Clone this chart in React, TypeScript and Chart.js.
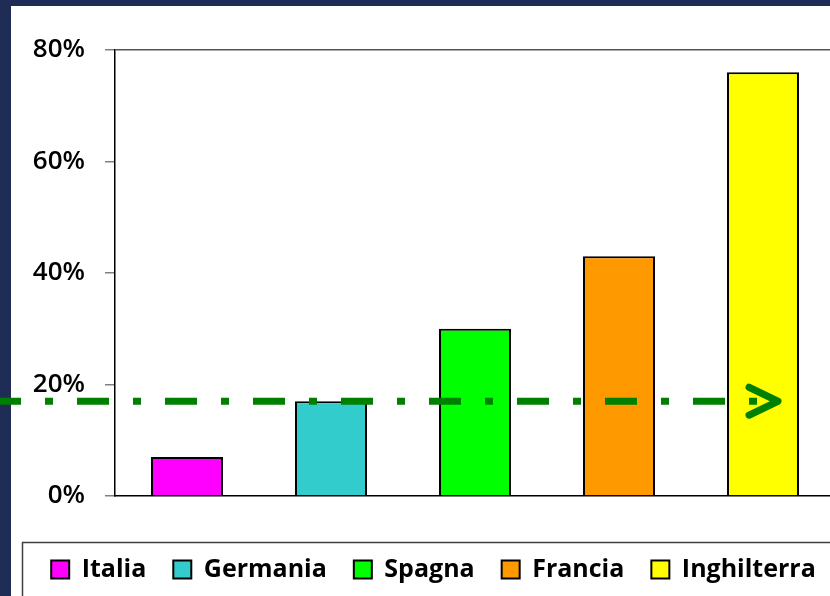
import React, { useEffect, useRef } from 'react';
import { Chart, registerables } from 'chart.js';

Chart.register(...registerables);

const countries = ['Italia', 'Germania', 'Spagna', 'Francia', 'Inghilterra'];
const shares = [7, 17, 30, 43, 76];
const barColors = ['#FF00FF', '#33CCCC', '#00FF00', '#FF9900', '#FFFF00'];
const yTickValues = [0, 20, 40, 60, 80];
const referenceLevel = 17;

export default function App() {
  const ref = useRef<HTMLCanvasElement>(null);

  useEffect(() => {
    if (!ref.current) return;

    const bgPlugin = {
      id: 'bgFrame',
      afterLayout(chart: any) {
        if (chart.legend) {
          chart.legend.left = 17;
          chart.legend.right = 850;
        }
      },
      beforeDraw(chart: any) {
        const { ctx, width, height } = chart;
        ctx.save();
        ctx.fillStyle = '#1f2c55';
        ctx.fillRect(0, 0, width, height);
        ctx.fillStyle = '#ffffff';
        ctx.fillRect(11, 6, width - 11, height - 6);
        ctx.restore();
      },
      afterDraw(chart: any) {
        const { ctx, width, height } = chart;
        ctx.save();
        ctx.strokeStyle = '#404040';
        ctx.lineWidth = 1.5;
        ctx.strokeRect(22.5, 542.5, width, height);
        ctx.restore();
      },
    };

    const refLinePlugin = {
      id: 'refLine',
      afterDatasetsDraw(chart: any) {
        const { ctx, scales } = chart;
        const y = scales.y.getPixelForValue(referenceLevel);
        const lastBar = chart.getDatasetMeta(countries.length - 1).data[0];
        const tipX = lastBar.x + 15;
        ctx.save();
        ctx.strokeStyle = '#008000';
        ctx.lineWidth = 7;
        ctx.lineCap = 'butt';
        ctx.setLineDash([32, 24, 8, 24]);
        ctx.lineDashOffset = 11;
        ctx.beginPath();
        ctx.moveTo(0, y);
        ctx.lineTo(tipX - 20, y);
        ctx.stroke();
        ctx.setLineDash([]);
        ctx.lineCap = 'round';
        ctx.lineJoin = 'round';
        ctx.beginPath();
        ctx.moveTo(tipX - 29, y - 14);
        ctx.lineTo(tipX, y);
        ctx.lineTo(tipX - 29, y + 14);
        ctx.stroke();
        ctx.restore();
      },
    };

    const chart = new Chart(ref.current, {
      type: 'bar',
      data: {
        labels: [''],
        datasets: countries.map((c, i) => ({
          label: c,
          data: [shares[i]],
          backgroundColor: barColors[i],
          borderColor: '#000000',
          borderWidth: 2,
          categoryPercentage: 1,
          barPercentage: 0.5,
        })),
      },
      options: {
        responsive: false,
        animation: false,
        devicePixelRatio: 1,
        layout: { padding: { left: 0, right: 0, top: 50, bottom: 4 } },
        plugins: {
          tooltip: { enabled: false },
          legend: {
            position: 'bottom',
            labels: {
              boxWidth: 18,
              boxHeight: 18,
              padding: 27,
              color: '#000000',
              font: { family: 'Open Sans', size: 25, weight: 'bold' },
            },
          },
        },
        scales: {
          x: {
            ticks: { display: false },
            grid: { display: false },
            border: { display: true, color: '#000000', width: 1.5 },
            afterFit(scale: any) {
              scale.height = 34;
            },
          },
          y: {
            min: 0,
            max: 80,
            afterBuildTicks(scale: any) {
              scale.ticks = yTickValues.map((v) => ({ value: v }));
            },
            ticks: {
              callback: (v: any) => v + '%',
              color: '#000000',
              padding: 20,
              font: { family: 'Open Sans', size: 26, weight: '600' },
            },
            grid: {
              drawOnChartArea: true,
              color: (c: any) => (c.tick && c.tick.value === 80 ? '#555555' : 'rgba(0,0,0,0)'),
              tickColor: '#808080',
              tickLength: 10,
              lineWidth: 1.5,
            },
            border: { display: true, color: '#000000', width: 1.5 },
            afterFit(scale: any) {
              scale.width = 115;
            },
          },
        },
      },
      plugins: [bgPlugin, refLinePlugin],
    });

    return () => chart.destroy();
  }, []);

  return (
    <div style={{ position: 'fixed', left: 0, top: 0, width: 830, height: 596, overflow: 'hidden' }}>
      <canvas ref={ref} width={835} height={596} style={{ display: 'block' }} />
    </div>
  );
}
